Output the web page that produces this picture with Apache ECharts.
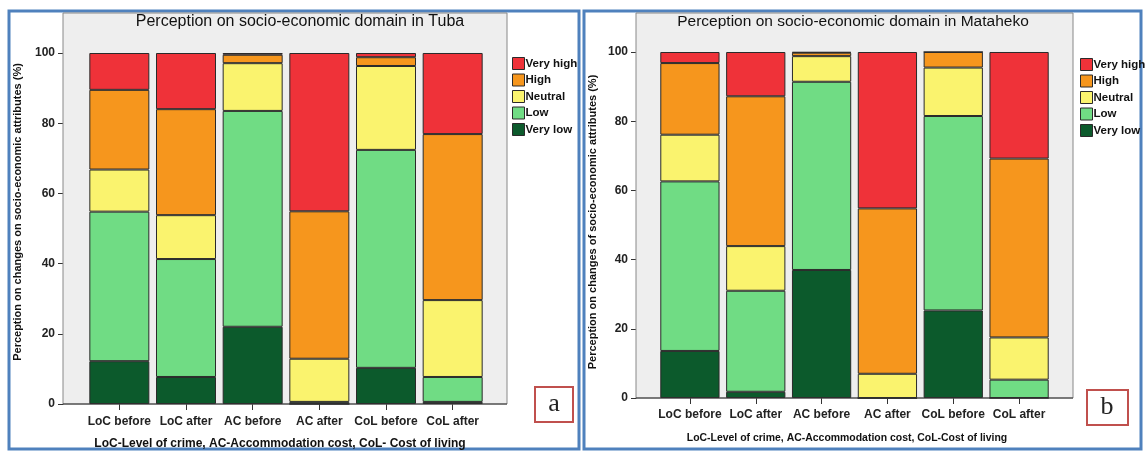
<!DOCTYPE html>
<html>
<head>
<meta charset="utf-8">
<script src="https://cdn.jsdelivr.net/npm/echarts@6/dist/echarts.min.js"></script>
<style>
  html, body { margin: 0; padding: 0; background: #ffffff; }
  #chart { width: 1146px; height: 451px; }
</style>
</head>
<body>
<div id="chart"></div>
<script>
// Categories on the x axis
const categories = ['LoC before', 'LoC after', 'AC before', 'AC after', 'CoL before', 'CoL after'];
// Response levels, bottom of the stack first
const levels = ['Very low', 'Low', 'Neutral', 'High', 'Very high'];
const yTicks = [0, 20, 40, 60, 80, 100];

// Tuba (%), one array per response level
const tubaVeryLow  = [12.2, 7.7, 22.0, 0.0, 10.3, 0.6];
const tubaLow      = [42.6, 33.6, 61.5, 0.6, 62.1, 7.1];
const tubaNeutral  = [12.0, 12.5, 13.6, 12.3, 23.9, 21.9];
const tubaHigh     = [22.7, 30.2, 2.4, 42.0, 2.5, 47.3];
const tubaVeryHigh = [10.5, 16.0, 0.5, 45.1, 1.2, 23.1];

// Mataheko (%), one array per response level
const matVeryLow  = [13.6, 1.8, 37.0, 0.0, 25.3, 0.0];
const matLow      = [49.0, 29.2, 54.4, 0.0, 56.2, 5.3];
const matNeutral  = [13.5, 12.9, 7.4, 7.0, 14.0, 12.2];
const matHigh     = [20.7, 43.3, 1.0, 47.8, 4.5, 51.7];
const matVeryHigh = [3.2, 12.8, 0.2, 45.2, 0.0, 30.8];

const tubaSeries = [tubaVeryLow, tubaLow, tubaNeutral, tubaHigh, tubaVeryHigh];
const matSeries  = [matVeryLow, matLow, matNeutral, matHigh, matVeryHigh];

const colors = {
  'Very low': '#0c5a2c',
  'Low': '#70dc84',
  'Neutral': '#faf36e',
  'High': '#f6961d',
  'Very high': '#ef3239'
};

const FONT = '"Liberation Sans", Arial, sans-serif';

const chart = echarts.init(document.getElementById('chart'), null, { renderer: 'canvas' });

function makeSeries(arrays, axisIndex, stackName) {
  return arrays.map((vals, i) => ({
    name: levels[i],
    type: 'bar',
    stack: stackName,
    xAxisIndex: axisIndex,
    yAxisIndex: axisIndex,
    barCategoryGap: '10%',
    data: vals,
    itemStyle: { color: colors[levels[i]], borderColor: '#2a2a2a', borderWidth: 1 },
    emphasis: { disabled: true }
  }));
}

function yAxisCfg(gridIndex, offset) {
  return {
    type: 'value', gridIndex, min: 0, max: 100, interval: 20, offset,
    axisLine: { show: true, lineStyle: { color: '#333', width: 1 } },
    axisTick: { show: true, length: 5, lineStyle: { color: '#333' } },
    splitLine: { show: false },
    axisLabel: {
      fontFamily: FONT, fontWeight: 'bold', fontSize: 12, color: '#222', margin: 8,
      formatter: v => (yTicks.indexOf(v) >= 0 ? String(v) : '')
    }
  };
}

function xAxisCfg(gridIndex, margin) {
  return {
    type: 'category', gridIndex, data: categories,
    axisLine: { show: false },
    axisTick: { show: true, alignWithLabel: true, length: 6, lineStyle: { color: '#333' } },
    axisLabel: { interval: 0, fontFamily: FONT, fontWeight: 'bold', fontSize: 12, color: '#222', margin }
  };
}

function legendCfg(left, top) {
  return {
    orient: 'vertical', left, top,
    data: levels.slice().reverse(),
    itemWidth: 12, itemHeight: 12, itemGap: 3.5,
    icon: 'rect',
    selectedMode: false,
    itemStyle: { borderColor: '#2a2a2a', borderWidth: 1 },
    textStyle: { fontFamily: FONT, fontWeight: 'bold', fontSize: 11.5, color: '#111', padding: [0, 0, 0, -4] }
  };
}

const graphics = [
  // panel frames
  { type: 'rect', z: 0, shape: { x: 9, y: 11, width: 570, height: 438 },
    style: { fill: '#ffffff', stroke: '#4f81bd', lineWidth: 3 } },
  { type: 'rect', z: 0, shape: { x: 584, y: 11, width: 557, height: 438 },
    style: { fill: '#ffffff', stroke: '#4f81bd', lineWidth: 3 } },
  // plot backgrounds
  { type: 'rect', z: 1, shape: { x: 63, y: 13, width: 444, height: 391 },
    style: { fill: '#eeeeee', stroke: '#888', lineWidth: 1 } },
  { type: 'rect', z: 1, shape: { x: 636, y: 13, width: 437, height: 385 },
    style: { fill: '#eeeeee', stroke: '#888', lineWidth: 1 } },
  // bottom axis lines
  { type: 'line', z: 3, shape: { x1: 63, y1: 404, x2: 507, y2: 404 }, style: { stroke: '#333', lineWidth: 1 } },
  { type: 'line', z: 3, shape: { x1: 636, y1: 398, x2: 1073, y2: 398 }, style: { stroke: '#333', lineWidth: 1 } },
  // chart titles
  { type: 'text', z: 3, x: 300, y: 22,
    style: { text: 'Perception on socio-economic domain in Tuba', font: '16px ' + FONT,
      fill: '#111', textAlign: 'center', textVerticalAlign: 'middle' } },
  { type: 'text', z: 3, x: 853, y: 22,
    style: { text: 'Perception on socio-economic domain in Mataheko', font: '15.5px ' + FONT,
      fill: '#111', textAlign: 'center', textVerticalAlign: 'middle' } },
  // y axis titles
  { type: 'text', z: 3, x: 18, y: 212, rotation: Math.PI / 2,
    style: { text: 'Perception on changes on socio-economic attributes (%)', font: 'bold 11px ' + FONT,
      fill: '#111', textAlign: 'center', textVerticalAlign: 'middle' } },
  { type: 'text', z: 3, x: 593, y: 222, rotation: Math.PI / 2,
    style: { text: 'Perception on changes of socio-economic attributes (%)', font: 'bold 11px ' + FONT,
      fill: '#111', textAlign: 'center', textVerticalAlign: 'middle' } },
  // x axis titles
  { type: 'text', z: 3, x: 280, y: 444,
    style: { text: 'LoC-Level of crime, AC-Accommodation cost, CoL- Cost of living', font: 'bold 12px ' + FONT,
      fill: '#111', textAlign: 'center', textVerticalAlign: 'middle' } },
  { type: 'text', z: 3, x: 847, y: 438, scaleX: 0.95,
    style: { text: 'LoC-Level of crime, AC-Accommodation cost, CoL-Cost of living', font: 'bold 11px ' + FONT,
      fill: '#111', textAlign: 'center', textVerticalAlign: 'middle' } },
  // panel letters
  { type: 'rect', z: 3, shape: { x: 535, y: 387, width: 38, height: 35 },
    style: { fill: '#ffffff', stroke: '#c0504d', lineWidth: 2 } },
  { type: 'text', z: 4, x: 554, y: 404,
    style: { text: 'a', font: '26px "Liberation Serif", "DejaVu Serif", serif',
      fill: '#222', textAlign: 'center', textVerticalAlign: 'middle' } },
  { type: 'rect', z: 3, shape: { x: 1087, y: 390, width: 41, height: 35 },
    style: { fill: '#ffffff', stroke: '#c0504d', lineWidth: 2 } },
  { type: 'text', z: 4, x: 1107, y: 407,
    style: { text: 'b', font: '26px "Liberation Serif", "DejaVu Serif", serif',
      fill: '#222', textAlign: 'center', textVerticalAlign: 'middle' } }
];

chart.setOption({
  animation: false,
  backgroundColor: '#ffffff',
  grid: [
    { left: 86, width: 400, top: 53, height: 351 },
    { left: 657, width: 395, top: 52, height: 346 }
  ],
  xAxis: [xAxisCfg(0, 12), xAxisCfg(1, 11)],
  yAxis: [yAxisCfg(0, 23), yAxisCfg(1, 21)],
  legend: [legendCfg(507, 52), legendCfg(1075, 53)],
  graphic: graphics,
  series: [
    ...makeSeries(tubaSeries, 0, 'tuba'),
    ...makeSeries(matSeries, 1, 'mat')
  ]
});
</script>
</body>
</html>
